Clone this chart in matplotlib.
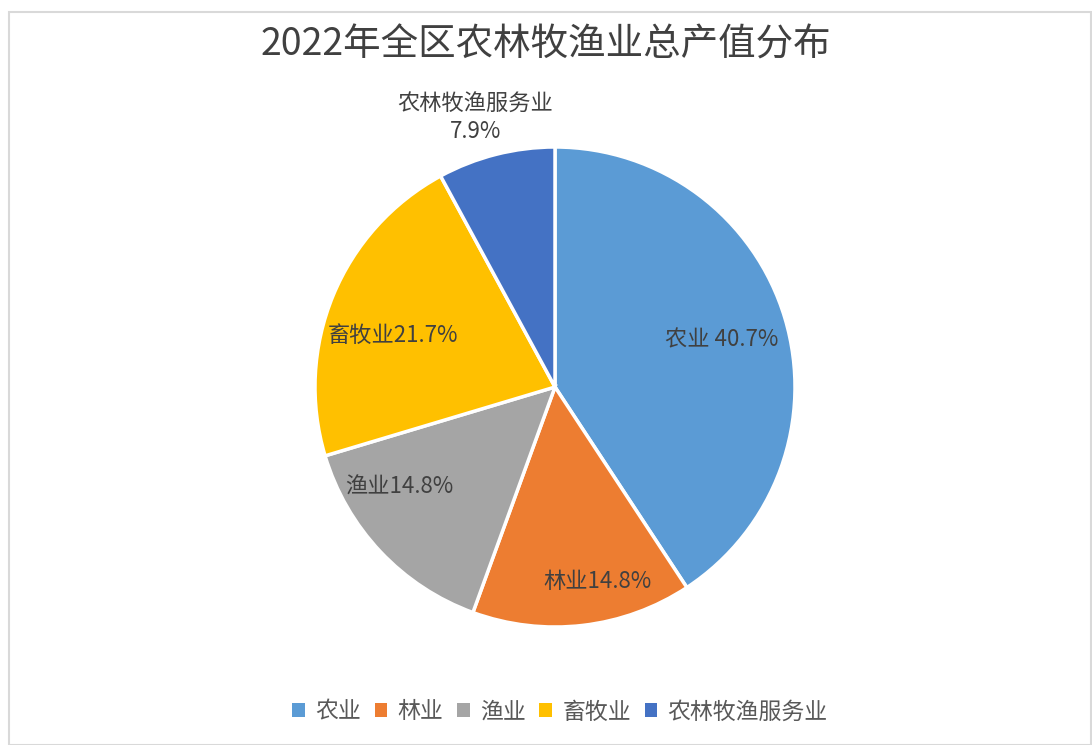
import matplotlib
matplotlib.use("Agg")
import matplotlib.pyplot as plt
from matplotlib.patches import Rectangle
import numpy as np

plt.rcParams['font.family'] = ['Noto Sans CJK SC', 'DejaVu Sans']

title = "2022年全区农林牧渔业总产值分布"
categories = ["农业", "林业", "渔业", "畜牧业", "农林牧渔服务业"]
values = [40.7, 14.8, 14.8, 21.7, 7.9]
label_texts = ["农业 40.7%", "林业14.8%", "渔业14.8%", "畜牧业21.7%", "农林牧渔服务业\n7.9%"]
colors = ["#5B9BD5", "#ED7D31", "#A5A5A5", "#FFC000", "#4472C4"]
label_dist = [0.72, 0.83, 0.77, 0.71, 1.17]
label_ang_off = [-1.0, 5.6, -10.5, 4.9, 2.2]

W, H = 1092, 745
fig = plt.figure(figsize=(W / 100, H / 100), dpi=100)
fig.patch.set_facecolor("white")

# chart border
fig.add_artist(Rectangle((9 / W, 0), (W - 10) / W, 1 - 12 / H, transform=fig.transFigure,
                         fill=False, edgecolor="#d9d9d9", lw=1.5))

cx, cy, R = 555, 387, 240
ax = fig.add_axes([(cx - R) / W, (H - cy - R) / H, 2 * R / W, 2 * R / H])
wedges, _ = ax.pie(values, colors=colors, startangle=90, counterclock=False,
                   radius=1, wedgeprops=dict(edgecolor="white", linewidth=2.5))
ax.set_xlim(-1, 1)
ax.set_ylim(-1, 1)
ax.set_aspect("equal")
ax.axis("off")

for w, txt, d, off in zip(wedges, label_texts, label_dist, label_ang_off):
    ang = np.deg2rad((w.theta1 + w.theta2) / 2 + off)
    x, y = d * np.cos(ang), d * np.sin(ang)
    ax.text(x, y, txt, ha="center", va="center", fontsize=16, color="#404040",
            linespacing=1.25, clip_on=False)

fig.text(0.5, 1 - 45 / H, title, ha="center", va="center", fontsize=27, color="#404040")

handles = [Rectangle((0, 0), 1, 1, facecolor=c, edgecolor="none") for c in colors]
leg = fig.legend(handles, categories, loc="center", bbox_to_anchor=(560 / W, 1 - 712 / H),
                 ncol=5, frameon=False, fontsize=16.5, handlelength=0.55, handleheight=0.55,
                 handletextpad=0.45, columnspacing=0.6, labelcolor="#595959")

fig.savefig("out.png", dpi=100, facecolor="white")
